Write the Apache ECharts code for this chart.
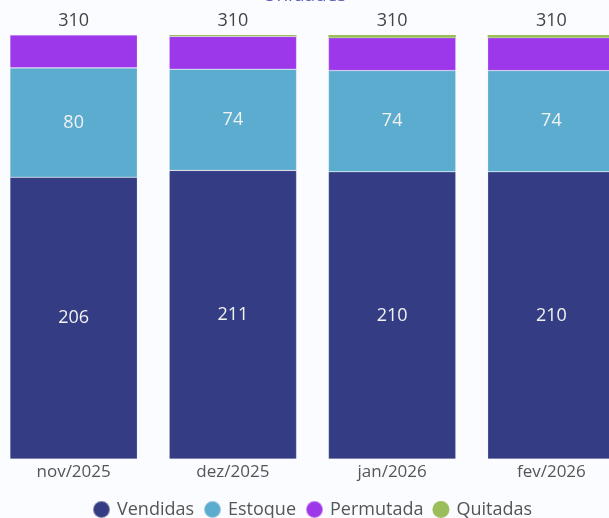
<!DOCTYPE html>
<html><head><meta charset="utf-8">
<script src="https://cdn.jsdelivr.net/npm/echarts@6/dist/echarts.min.js"></script>
<style>html,body{margin:0;padding:0;background:#fafcff}#c{width:609px;height:518px}</style>
</head><body><div id="c"></div>
<script>
const categories = ['nov/2025','dez/2025','jan/2026','fev/2026'];
const vendidas = [206, 211, 210, 210];
const estoque = [80, 74, 74, 74];
const permutada = [24, 24, 24, 24];
const quitadas = [0, 1, 2, 2];
const totals = categories.map((_, i) => vendidas[i] + estoque[i] + permutada[i] + quitadas[i]);

const FONT = "'Segoe UI','Open Sans','Noto Sans',sans-serif";
const border = { borderColor: 'rgba(255,255,255,0.35)', borderWidth: 0.6 };
const chart = echarts.init(document.getElementById('c'));
chart.setOption({
  backgroundColor: '#fafcff',
  title: { text: 'Unidades', left: 'center', top: -19, textStyle: { color: '#5b60b8', fontSize: 19, fontWeight: 'normal', fontFamily: FONT } },
  grid: { left: -6, right: -22, top: 35, bottom: 59, containLabel: false, outerBoundsMode: 'none' },
  legend: {
    bottom: -6, left: 87, icon: 'circle', itemWidth: 17, itemHeight: 17, itemGap: 9,
    textStyle: { color: '#555', fontSize: 18, fontFamily: FONT, padding: [0, 0, 0, 2] },
    data: ['Vendidas', 'Estoque', 'Permutada', 'Quitadas']
  },
  xAxis: {
    type: 'category', data: categories,
    axisLine: { show: false }, axisTick: { show: false },
    axisLabel: { color: '#555', fontSize: 17, fontFamily: FONT, margin: 5 }
  },
  yAxis: { type: 'value', min: 0, max: 310, show: false, splitLine: { show: false } },
  series: [
    { name: 'Vendidas', type: 'bar', stack: 't', data: vendidas, barWidth: '80%',
      itemStyle: Object.assign({ color: '#343d83' }, border),
      label: { show: true, position: 'inside', color: '#f2f2f2', fontSize: 18, fontFamily: FONT } },
    { name: 'Estoque', type: 'bar', stack: 't', data: estoque,
      itemStyle: Object.assign({ color: '#5bacce' }, border),
      label: { show: true, position: 'inside', color: '#f2f2f2', fontSize: 18, fontFamily: FONT } },
    { name: 'Permutada', type: 'bar', stack: 't', data: permutada,
      itemStyle: Object.assign({ color: '#9d37ea' }, border) },
    { name: 'Quitadas', type: 'bar', stack: 't', data: quitadas,
      itemStyle: { color: '#9bbd5b' },
      label: { show: true, position: 'top', distance: 5, color: '#444', fontSize: 18, fontFamily: FONT,
        formatter: p => totals[p.dataIndex] } }
  ]
});
</script></body></html>
